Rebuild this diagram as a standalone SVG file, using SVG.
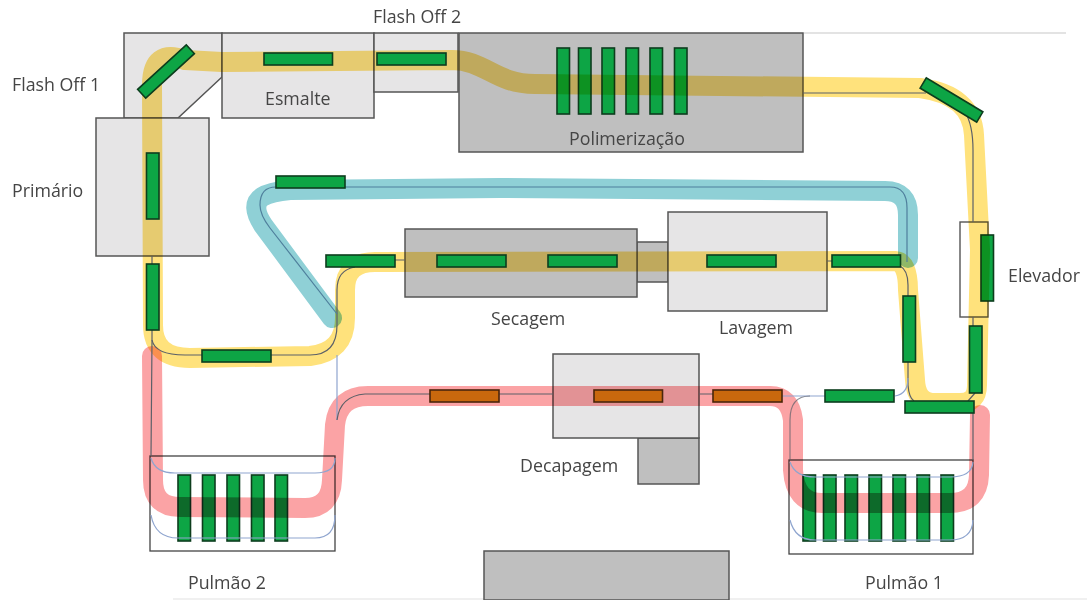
<svg xmlns="http://www.w3.org/2000/svg" width="1087" height="600" viewBox="0 0 1087 600">
<defs><filter id="soft" x="0" y="0" width="100%" height="100%"><feGaussianBlur stdDeviation="0.45"/></filter></defs>
<style>
text{font-family:"Open Sans","Liberation Sans",sans-serif;font-size:17.8px;fill:#454545}
.lt{fill:#e6e5e6;stroke:#555;stroke-width:1.5}
.dk{fill:#bfbfbf;stroke:#555;stroke-width:1.5}
.g{fill:#0ea544;stroke:#0b3d1e;stroke-width:1.6}
.o{fill:#c9680e;stroke:#4a2507;stroke-width:1.6}
.band{fill:none;stroke-width:20;stroke-linecap:round;stroke-linejoin:round;mix-blend-mode:multiply}
.y{stroke:#ffe27c}
.t{stroke:#8fd0d6}
.p{stroke:#fba3a5}
.th{fill:none;stroke:#5c6068;stroke-width:1.2}
.bl{fill:none;stroke:#8fa5cf;stroke-width:1.2}
.tl{fill:none;stroke:#4f7f9c;stroke-width:1.2}
</style>
<g filter="url(#soft)">
<rect width="1087" height="600" fill="#fff"/>
<g id="borders">
<path d="M804 33H1066" stroke="#c8c8c8" stroke-width="1.2" fill="none"/>
<path d="M173 599H1087" stroke="#e2e2e2" stroke-width="1.2" fill="none"/>
</g>
<g id="flash-off-1"><path class="lt" d="M124 33H222V77L178 118H124Z"/><text x="12" y="91">Flash Off 1</text></g>
<g id="esmalte"><rect class="lt" x="222" y="33" width="152" height="85"/><text x="265" y="105">Esmalte</text></g>
<g id="flash-off-2"><rect class="lt" x="374" y="33" width="84" height="59"/><text x="373" y="23">Flash Off 2</text></g>
<g id="polimerizacao"><rect class="dk" x="459" y="33" width="344" height="119"/><text x="569" y="145">Polimerização</text>
<g id="polimerizacao-slats">
<rect class="g" x="557" y="48" width="12.500" height="66"/><rect class="g" x="578.500" y="48" width="12.500" height="66"/><rect class="g" x="602" y="48" width="12.500" height="66"/><rect class="g" x="626" y="48" width="12.500" height="66"/><rect class="g" x="650" y="48" width="12.500" height="66"/><rect class="g" x="674.500" y="48" width="12.500" height="66"/>
</g></g>
<g id="primario"><rect class="lt" x="96" y="118" width="113" height="138"/><text x="12" y="197">Primário</text></g>
<g id="link-secagem-lavagem"><rect class="dk" x="637" y="242" width="31" height="40"/></g>
<g id="secagem"><rect class="dk" x="405" y="229" width="232" height="68"/><text x="491" y="325">Secagem</text></g>
<g id="lavagem"><rect class="lt" x="668" y="212" width="159" height="99"/><text x="719" y="334">Lavagem</text></g>
<g id="decapagem"><rect class="dk" x="638" y="438" width="61" height="46"/><rect class="lt" x="553" y="354" width="146" height="84"/><text x="520" y="472">Decapagem</text></g>
<g id="base"><rect class="dk" x="484" y="551" width="245" height="49"/></g>
<g id="elevador"><rect x="960" y="222" width="28" height="95" fill="#fff" stroke="#555" stroke-width="1.4"/><text x="1008" y="282">Elevador</text></g>
<g id="pulmao-2"><rect x="150" y="456" width="185" height="95" fill="#fff" stroke="#444" stroke-width="1.3"/><text x="188" y="589">Pulmão 2</text>
<rect class="g" x="178" y="475" width="12.500" height="66"/><rect class="g" x="202.500" y="475" width="12.500" height="66"/><rect class="g" x="227" y="475" width="12.500" height="66"/><rect class="g" x="251.500" y="475" width="12.500" height="66"/><rect class="g" x="275" y="475" width="12.500" height="66"/></g>
<g id="pulmao-1"><rect x="789" y="460" width="184" height="94" fill="#fff" stroke="#444" stroke-width="1.3"/><text x="865" y="589">Pulmão 1</text>
<rect class="g" x="803" y="475" width="12.500" height="66"/><rect class="g" x="823.500" y="475" width="12.500" height="66"/><rect class="g" x="845" y="475" width="12.500" height="66"/><rect class="g" x="869" y="475" width="12.500" height="66"/><rect class="g" x="893" y="475" width="12.500" height="66"/><rect class="g" x="917" y="475" width="12.500" height="66"/><rect class="g" x="941" y="475" width="12.500" height="66"/></g>
<g id="elevador-slat"><rect class="g" x="981" y="235" width="12.500" height="66"/></g>
<g id="connectors">
<path class="band y" d="M452 60L222 62L185 60Q152 48 152 85L153 325Q153 358 190 358L310 356Q345 352 345 318L345 290Q345 262 375 262L895 261Q908 262 908 290L915 380Q916 403 935 403L960 403Q977 403 977 385L978 340L980 250L974 135Q972 95 920 88L535 84C495 84 485 60 452 60Z"/>
<path class="band t" d="M332 318L263 225Q250 205 262 197Q270 192 290 190L500 188L885 191Q908 191 908 215L908 258"/>
<path class="band p" d="M152 356L153 480Q153 507 180 507L305 508Q331 508 332 480L335 425Q338 396 368 396L550 396L770 396Q790 396 793 420L793 470Q795 503 822 503L950 503Q978 503 979 475L980 415"/>
<path class="th" d="M152 330V340Q155 355 185 355H310Q337 355 337 325V290Q337 270 355 267"/>
<path class="th" d="M395 260H405M827 261H832M900 266Q908 270 908 285V296M908 362V385Q909 398 914 401M975 393L968 401M152 256V264"/>
<path class="th" d="M803 93H926M965 112Q973 125 973 150V222M973 317V326"/>
<path class="tl" d="M345 187H890Q907 187 907 208V262M276 187Q260 187 260 205Q260 215 270 228L337 314"/>
<path class="bl" d="M337 355V420M782 396H825M895 396Q908 394 908 378"/>
<path class="th" d="M152 340L151 456M337 420Q340 396 365 394H430M499 394H553M699 394H713M973 413V460"/>
<path class="th" stroke-opacity=".7" d="M790 460V420Q790 396 810 396"/>
<path class="bl" d="M151 458Q155 473 175 473H315Q335 473 335 458M151 515Q155 538 178 538H315Q335 538 335 515M790 462Q795 477 815 477H950Q972 477 973 462M790 520Q795 540 815 540H950Q972 540 973 520"/>
</g>
<g id="conveyors-green">
<rect class="g" x="264" y="53" width="68.500" height="12"/><rect class="g" x="377" y="53" width="69" height="12"/>
<rect class="g" x="276" y="176" width="69" height="12"/>
<rect class="g" x="326" y="255" width="69" height="12"/><rect class="g" x="437" y="255" width="69" height="12"/><rect class="g" x="548" y="255" width="69" height="12"/><rect class="g" x="707" y="255" width="69" height="12"/><rect class="g" x="832" y="255" width="68.500" height="12"/>
<rect class="g" x="202" y="350" width="69" height="12"/><rect class="g" x="825" y="390" width="69" height="12"/><rect class="g" x="905" y="401" width="69" height="12"/>
<rect class="g" x="146.500" y="153" width="12.500" height="66"/><rect class="g" x="146.500" y="264" width="12.500" height="66"/><rect class="g" x="903" y="296" width="12.500" height="66"/><rect class="g" x="969.500" y="326" width="12.500" height="67"/>
<rect class="g" x="133" y="65.500" width="66" height="12" transform="rotate(-42.500 166 71.500)"/>
<rect class="g" x="918.500" y="94" width="66" height="12" transform="rotate(31 951.500 100)"/>
</g>
<g id="conveyors-orange">
<rect class="o" x="430" y="390" width="69" height="12"/><rect class="o" x="594" y="390" width="68.500" height="12"/><rect class="o" x="713" y="390" width="69" height="12"/>
</g>
</g>
</svg>
